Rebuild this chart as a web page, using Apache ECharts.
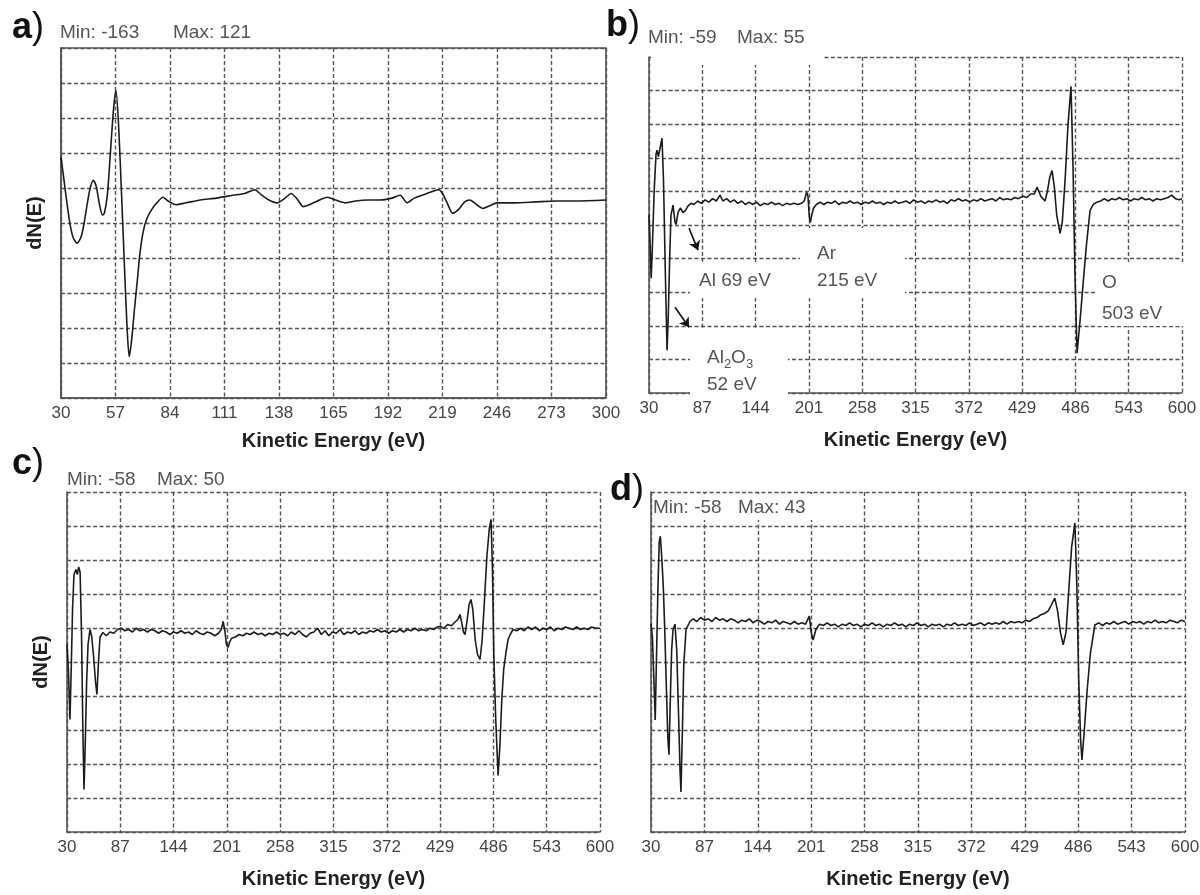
<!DOCTYPE html>
<html><head><meta charset="utf-8">
<script src="https://cdn.jsdelivr.net/npm/echarts@6/dist/echarts.min.js"></script>
<style>html,body{margin:0;padding:0;background:#fff}#c{width:1200px;height:895px}</style>
</head><body><div id="c"></div>
<script>
// ---------- DATA ----------
const ticksA = [30, 57, 84, 111, 138, 165, 192, 219, 246, 273, 300];
const ticksBCD = [30, 87, 144, 201, 258, 315, 372, 429, 486, 543, 600];
const yRangeA = [-207, 166];
const yRangeB = [-76, 67.5];
const yRangeC = [-75, 61];
const yRangeD = [-73, 54.6];
const statsA = ['Min: -163', 'Max: 121'];
const statsB = ['Min: -59', 'Max: 55'];
const statsC = ['Min: -58', 'Max: 50'];
const statsD = ['Min: -58', 'Max: 43'];

const specA = [[30,50],[31.5,25],[33,0],[34.5,-22],[36,-36],[38,-42],[40,-35],[41.5,-20],[43,0],[44.5,17],[46,25],[47.5,18],[49,0],[50.5,-12],[51.5,-10],[53,10],[54.5,55],[56,100],[57.2,121],[58.5,85],[60,10],[61.5,-70],[62.8,-135],[63.8,-163],[65,-145],[66.5,-110],[67.8,-82],[69,-55],[70.6,-31],[72.5,-16],[75,-6],[77.5,1],[80.5,7],[83,3],[87,-1],[92,1],[99,4],[107,6],[115,9],[121,11],[126,15],[129,10],[133,4],[137,1],[141,6],[144,11],[147,5],[150,-3],[153,-1],[157,3],[162,7],[166,4],[171,1],[176,3],[182,4],[188,4],[194,6],[198,9],[201.5,1],[205,6],[210,10],[214,13],[217,15],[219,11],[221.5,0],[224,-10],[227,-6],[230,2],[232.5,4],[236,-1],[239,-5],[242.5,-2],[246,1],[255,1],[265,2],[275,3],[285,3],[300,4]];

const specB = [[30,0],[31,-10],[32.3,-27],[33.5,-15],[35.5,10],[37.5,26],[38.6,27.7],[40,25],[41.5,28],[43.9,32.8],[45.5,15],[47.5,-25],[49.3,-57.7],[50.5,-45],[52,-20],[53.5,0],[55.7,4.2],[57.8,-3],[59,-4],[61,1],[63.5,3],[66.4,1],[69,2],[72,4],[75,5],[78,4.5],[82,6],[86,5],[90,6.5],[94,5.5],[98,7],[102,6],[106,8.5],[109,6],[113,7],[117,5.5],[121,6.5],[125,5],[129,6],[133,4.5],[137,5.5],[141,4.5],[145,5.5],[149,4],[153,5],[157,4.5],[161,5.5],[165,4.5],[169,5],[173,4],[177,5],[181,4.5],[185,5],[189,4.5],[193,5],[196,6],[198.5,9.8],[200,8],[201.5,-1],[202.5,-3.1],[204,0],[206,3],[209,4.5],[213,5.5],[217,4.5],[221,5.5],[225,5],[229,6],[233,4.5],[237,5.5],[241,5],[245,6],[249,5],[253,5.5],[257,4.5],[261,5.5],[265,5],[269,6],[273,5],[277,5.5],[281,4.5],[285,5.5],[289,5],[293,6],[297,5],[301,5.5],[305,6],[309,5],[313,6.5],[317,5.5],[321,6],[325,5],[329,6],[333,5.5],[337,6.5],[341,5.5],[345,6],[349,5],[353,6.5],[357,6],[361,7],[365,6],[369,6.5],[373,5.5],[377,6.5],[381,6],[385,7],[389,6],[393,6.5],[397,7],[401,6],[405,7.5],[409,6.5],[413,7],[417,6.5],[421,7.5],[425,7],[430,8],[434,7.5],[438,9],[442,9],[445,12],[449,8],[453.5,6],[456,10],[458.5,16],[461,19],[463.5,12],[466,0],[469.6,-7.8],[472,-3],[475,15],[478,38],[481.3,55],[483.5,20],[485.5,-25],[487.8,-59],[491,-45],[494.5,-28],[498,-12],[501.7,2],[505,4.5],[509,5.5],[513,6],[517,7],[521,6],[525,7],[529,6.5],[533,7.5],[537,6.5],[541,7],[545,6],[549,7],[553,6.5],[557,7.5],[561,6.5],[565,7],[569,6],[573,7],[577,6.5],[581,7],[585,7.5],[589,8.5],[593,7],[597,6.5],[600,7]];

const specC = [[30,0],[31.5,-10],[33.2,-30],[34.5,-10],[36,15],[37.5,28],[39.5,30],[41,28],[42.5,31],[44,29],[45.5,5],[47,-35],[48.2,-58],[49.5,-40],[51,-15],[52.5,0],[54.6,6],[56.5,3],[58.5,-5],[60.5,-15],[62,-20],[63.5,-8],[65.3,3],[68.5,4.8],[72,3.5],[76,5],[80,4.5],[84,6],[88,6.5],[92,5.5],[96,6],[100,5],[104,6.5],[108,5.5],[112,6],[116,5],[120,6],[124,5.5],[128,4.5],[132,5.5],[136,5],[140,4],[144,5],[148,4.5],[152,5.5],[156,4.5],[160,5],[164,4],[168,5.5],[172,4.5],[176,4],[180,5],[184,4.5],[188,3.5],[192,4.5],[195,6],[197,9.2],[199,5],[200.5,0],[202.2,-1.2],[204,1],[206,2.5],[210,3],[214,4],[218,3.5],[222,4.5],[226,4],[230,5],[234,4],[238,4.5],[242,3.5],[246,4.5],[250,4],[254,5],[258,4],[262,4.5],[266,3.5],[270,5],[274,4],[278,5.5],[282,4],[286,3],[290,4.5],[294,5],[298,6.5],[302,4],[306,5.5],[310,3.5],[314,5],[318,4.5],[322,6],[326,4],[330,5],[334,4.5],[338,5.5],[342,4],[346,5],[350,4.5],[354,5.5],[358,5],[362,6],[366,5],[370,5.5],[374,4.5],[378,5.5],[382,5],[386,6],[390,5],[394,6],[398,5.5],[402,6.5],[406,5.5],[410,6],[414,5.5],[418,6.5],[422,6],[426,7],[429,7.2],[433,6.5],[437,8],[441,7.5],[445,9],[448,10],[450.3,12],[452,9],[454,5],[455.7,4],[458,10],[460,16],[462,18],[464,14],[466.5,2],[469,-4],[471.7,-6],[474,2],[476.5,18],[479,35],[481.5,46],[483.5,50],[485,30],[486.5,-5],[488.5,-30],[491,-52.4],[493,-40],[495,-22],[497,-10],[499.5,-3],[501.7,2],[504,4],[507,6],[511,5.5],[515,6.5],[519,5.5],[523,7],[527,6],[531,7],[535,5.5],[539,6.5],[543,6],[547,7],[551,5.5],[555,6.5],[559,6],[563,7],[567,6.5],[571,6],[575,7],[579,6],[583,6.5],[587,6],[591,7],[595,6.5],[600,6.5]];

const specD = [[30,5],[31.5,0],[33,-15],[34.5,-31],[36,-5],[37.5,20],[38.8,36],[40,38],[41.5,30],[43,20],[44.5,5],[46.5,-20],[48,-38],[49.2,-44],[50.5,-25],[52,-5],[53.5,3],[55.6,5],[57.5,-5],[59.5,-30],[61,-50],[62,-58],[63.5,-35],[65,-10],[67.4,3],[71.6,6],[75,7],[79,6],[83,7.5],[87,6.5],[91,7],[95,6],[99,7.5],[103,6.5],[107,7],[111,6],[115,7],[119,6.5],[123,5.5],[127,6.5],[131,6],[135,7],[139,5.5],[143,6.5],[147,6],[151,5],[155,6],[159,5.5],[163,6.5],[167,5],[171,6],[175,5.5],[179,5],[183,6],[187,5],[191,5.5],[195,5],[199,8],[201,2],[203,-1],[206,3],[210,5],[214,4.5],[218,5.5],[222,4.5],[226,5],[230,4],[234,5],[238,4.5],[242,5.5],[246,4.5],[250,5],[254,4],[258,5],[262,4.5],[266,5.5],[270,4.5],[274,5],[278,4],[282,5],[286,4.5],[290,5.5],[294,4.5],[298,5],[302,4],[306,5],[310,4.5],[314,5.5],[318,4.5],[322,5],[326,4],[330,5],[334,4.5],[338,5],[342,4],[346,5],[350,4.5],[354,5.5],[358,4.5],[362,5],[366,4.5],[370,5.5],[374,4.5],[378,5],[382,5.5],[386,4.5],[390,5.5],[394,5],[398,5.5],[402,5],[406,6],[410,5],[414,6],[418,5.5],[422,6],[426,5.5],[430,6.5],[434,6],[438,7],[442,7.5],[446,8.5],[450,9],[454,10],[457,12],[461,14.8],[464,10],[467,2],[470,-2.8],[473,2],[476,18],[479,34],[482.5,43],[484.5,20],[486.5,-15],[488.5,-38],[490,-46],[492.5,-35],[495.5,-20],[499,-6],[503.8,4.7],[508,5.5],[512,4.5],[516,5.5],[520,5],[524,6],[528,5],[532,5.5],[536,6],[540,5],[544,6],[548,5.5],[552,6],[556,5],[560,6],[564,5.5],[568,6.5],[572,5.5],[576,6],[580,5.5],[584,6.5],[588,6],[592,5.5],[596,6.5],[600,6]];

// annotation anchors for panel b (data coordinates)
const arrowsB = [[[72.8,-5.6],[82.4,-15.0]], [[57.8,-39.4],[72.8,-47.9]]];

// ---------- LAYOUT / STYLE ----------
const FONT = '"Liberation Sans", Arial, Helvetica, sans-serif';
const LINE = '#1c1c1c', GRIDC = '#555', TXT = '#444';
const panels = [
  {grid:{left:61, top:48, width:545, height:350}, ticks:ticksA, yr:yRangeA, data:specA, box:true, yName:'dN(E)', smooth:0.25, nameGap:33},
  {grid:{left:649, top:57, width:533, height:336}, ticks:ticksBCD, yr:yRangeB, data:specB, box:false, yName:'', smooth:false, nameGap:37},
  {grid:{left:67, top:492, width:533, height:340}, ticks:ticksBCD, yr:yRangeC, data:specC, box:false, yName:'dN(E)', smooth:false, nameGap:37},
  {grid:{left:651, top:492, width:534, height:340}, ticks:ticksBCD, yr:yRangeD, data:specD, box:false, yName:'', smooth:false, nameGap:37}
];

const dash = {color:GRIDC, width:1.4, type:[4,2.5]};
const grids = [], xAxes = [], yAxes = [], series = [];
panels.forEach((p, i) => {
  grids.push(Object.assign({show:p.box, borderColor:'#555', borderWidth:1.6, backgroundColor:'transparent', containLabel:false, outerBoundsMode:'none'}, p.grid));
  xAxes.push({gridIndex:i, type:'value', min:p.ticks[0], max:p.ticks[p.ticks.length-1], interval:p.ticks[1]-p.ticks[0],
    axisLine:{show:true, onZero:false, lineStyle:{color:'#555', width:1.6}}, axisTick:{show:false},
    axisLabel:{color:TXT, fontSize:17, margin:7, fontFamily:FONT},
    splitLine:{show:true, lineStyle:dash},
    name:'Kinetic Energy (eV)', nameLocation:'middle', nameGap:p.nameGap,
    nameTextStyle:{fontSize:20, fontWeight:'bold', color:'#222', fontFamily:FONT}});
  yAxes.push({gridIndex:i, type:'value', min:p.yr[0], max:p.yr[1], interval:(p.yr[1]-p.yr[0])/10,
    axisLine:{show:true, onZero:false, lineStyle:{color:'#555', width:1.6}}, axisTick:{show:false},
    axisLabel:{show:false}, splitLine:{show:true, lineStyle:dash},
    name:p.yName, nameLocation:'middle', nameGap:16, nameRotate:90,
    nameTextStyle:{fontSize:20, fontWeight:'bold', color:'#222', fontFamily:FONT}});
  const s = {type:'line', xAxisIndex:i, yAxisIndex:i, data:p.data, showSymbol:false, smooth:p.smooth,
    lineStyle:{color:LINE, width:1.6}, z:3, silent:true};
  if (i === 1) {
    s.markLine = {silent:true, symbol:['none','arrow'], symbolSize:9, label:{show:false},
      lineStyle:{color:'#111', width:1.6, type:'solid'},
      data: arrowsB.map(a => [{coord:a[0]}, {coord:a[1]}])};
  }
  series.push(s);
});

function txt(t, x, y, size, opts) {
  return Object.assign({type:'text', z:10, style:Object.assign({text:t, x:x, y:y, fill:'#555',
    font:(opts && opts.bold ? 'bold ' : '') + size + 'px ' + FONT, align:'left', verticalAlign:'middle'}, opts && opts.style)}, {});
}
function cover(x, y, w, h) {
  return {type:'rect', z:1, shape:{x:x, y:y, width:w, height:h}, style:{fill:'#fff'}, silent:true};
}
function letter(ch, x, y) {
  return {type:'text', z:10, style:{text:'{b|' + ch + '}{n|)}', x:x, y:y, align:'left', verticalAlign:'middle',
    rich:{b:{fontSize:36, fontWeight:'bold', fontFamily:FONT, fill:'#111'}, n:{fontSize:36, fontFamily:FONT, fill:'#111'}}}};
}

const graphic = [
  // white backgrounds behind labels (they interrupt the grid like in the original)
  cover(651, 46, 171, 19),
  cover(690, 262, 110, 36),
  cover(800, 228, 105, 70),
  cover(690, 330, 98, 68),
  cover(1097, 262, 103, 64),
  cover(653, 494, 177, 26),
  // panel letters
  letter('a', 12, 28), letter('b', 606, 26), letter('c', 12, 464), letter('d', 610, 490),
  // min / max
  txt(statsA[0], 60, 33, 19), txt(statsA[1], 173, 33, 19),
  txt(statsB[0], 648, 38, 19), txt(statsB[1], 737, 38, 19),
  txt(statsC[0], 67, 480, 19), txt(statsC[1], 157, 480, 19),
  txt(statsD[0], 653, 508, 19), txt(statsD[1], 738, 508, 19),
  // annotations panel b
  txt('Al 69 eV', 699, 281, 19),
  txt('Ar', 817, 254, 19), txt('215 eV', 817, 281, 19),
  txt('O', 1102, 283, 19), txt('503 eV', 1102, 314, 19),
  txt('Al', 707, 358, 19), txt('2', 724, 364, 13), txt('O', 731, 358, 19), txt('3', 746, 364, 13),
  txt('52 eV', 707, 385, 19)
];

const chart = echarts.init(document.getElementById('c'), null, {renderer:'canvas', width:1200, height:895});
chart.setOption({
  animation:false,
  backgroundColor:'#fff',
  textStyle:{fontFamily:FONT},
  grid:grids, xAxis:xAxes, yAxis:yAxes, series:series, graphic:graphic
});
</script>
</body></html>
